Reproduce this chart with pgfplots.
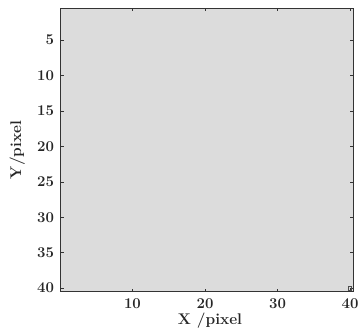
\documentclass[border=0pt]{standalone}
\usepackage{pgfplots}
\pgfplotsset{compat=1.18}
\definecolor{bgray}{HTML}{DCDCDC}
\begin{document}
\begin{tikzpicture}
\begin{axis}[
  name=ax,
  scale only axis,
  width=292.6bp, height=283.4bp,
  xmin=0.1, xmax=40.45,
  ymin=0.5, ymax=40.5,
  y dir=reverse,
  axis on top,
  xtick={10,20,30,40},
  ytick={5,10,15,20,25,30,35,40},
  tick align=inside,
  major tick length=3pt,
  tick style={black!80, line width=0.5pt},
  axis line style={black!80, line width=0.7pt},
  /pgf/number format/assume math mode=true,
  ticklabel style={font=\fontsize{15}{17}\selectfont\bfseries, text=black!85},
  xticklabel style={inner sep=0pt, anchor=north, yshift=-7bp},
  yticklabel style={inner sep=0pt, anchor=east, xshift=-6.5bp},
  label style={font=\fontsize{15.5}{17}\selectfont\bfseries, text=black!85, inner sep=0pt},
  xlabel={X /pixel},
  ylabel={Y/pixel},
  xlabel style={at={(axis description cs:0.5,0)}, anchor=north, yshift=-20.8bp, xshift=3bp},
  ylabel style={at={(axis description cs:0,0.5)}, anchor=south, yshift=35.5bp},
]
\addplot[draw=none, fill=bgray] coordinates {(0.1,0.5) (40.45,0.5) (40.45,40.5) (0.1,40.5)} -- cycle;
\addplot[only marks, mark=square, mark size=1.6pt, color=black!70, line width=0.4pt] coordinates {(40,40)};
\end{axis}
\pgfresetboundingbox
\path (ax.south west) ++(-60.7bp,-39.3bp) rectangle ++(363bp,331bp);
\end{tikzpicture}
\end{document}
